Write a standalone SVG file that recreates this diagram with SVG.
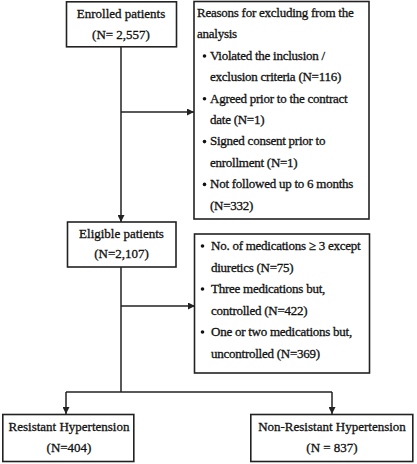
<svg xmlns="http://www.w3.org/2000/svg" width="417" height="464" viewBox="0 0 417 464">
<style>
.box{fill:#fff;stroke:#222;stroke-width:1.6}
.t{font-family:"Liberation Serif","Times New Roman",serif;font-size:13px;fill:#111;stroke:#111;stroke-width:0.3}
.c{text-anchor:middle}
.l{letter-spacing:-0.25px}
.ln{stroke:#222;stroke-width:1.5;fill:none}
.bul{fill:#111}
</style>
<defs>
<marker id="ah" viewBox="0 0 10 10" refX="10" refY="5" markerWidth="7" markerHeight="7" markerUnits="userSpaceOnUse" orient="auto">
<path d="M0,0L10,5L0,10Z" fill="#222"/>
</marker>
</defs>
<rect width="417" height="464" fill="#fff"/>
<g id="connectors">
<path class="ln" d="M121,47V222" marker-end="url(#ah)"/>
<path class="ln" d="M121,112H194" marker-end="url(#ah)"/>
<path class="ln" d="M121,267V392"/>
<path class="ln" d="M121,306H195" marker-end="url(#ah)"/>
<path class="ln" d="M66,392H332"/>
<path class="ln" d="M66,392V414" marker-end="url(#ah)"/>
<path class="ln" d="M332,392V414" marker-end="url(#ah)"/>
</g>
<g id="enrolled">
<rect class="box" x="66.5" y="1.8" width="110" height="45"/>
<text class="t c" x="121" y="18">Enrolled patients</text>
<text class="t c" x="121" y="38.5">(N= 2,557)</text>
</g>
<g id="reasons">
<rect class="box" x="194" y="1.5" width="175" height="217.5"/>
<text class="t l" x="197" y="17">Reasons for excluding from the</text>
<text class="t l" x="197" y="38.4">analysis</text>
<circle class="bul" cx="204.5" cy="56" r="1.8"/>
<text class="t l" x="210" y="59.8">Violated the inclusion /</text>
<text class="t l" x="210" y="81.2">exclusion criteria (N=116)</text>
<circle class="bul" cx="204.5" cy="98.8" r="1.8"/>
<text class="t l" x="210" y="102.6">Agreed prior to the contract</text>
<text class="t l" x="210" y="124">date (N=1)</text>
<circle class="bul" cx="204.5" cy="141.6" r="1.8"/>
<text class="t l" x="210" y="145.4">Signed consent prior to</text>
<text class="t l" x="210" y="166.8">enrollment (N=1)</text>
<circle class="bul" cx="204.5" cy="184.4" r="1.8"/>
<text class="t l" x="210" y="188.2">Not followed up to 6 months</text>
<text class="t l" x="210" y="209.6">(N=332)</text>
</g>
<g id="eligible">
<rect class="box" x="67.5" y="222" width="108.5" height="45"/>
<text class="t c" x="121.5" y="237.5">Eligible patients</text>
<text class="t c" x="121.5" y="258">(N=2,107)</text>
</g>
<g id="excluded2">
<rect class="box" x="194.5" y="234" width="175" height="139"/>
<circle class="bul" cx="202.5" cy="246" r="1.8"/>
<text class="t l" x="211" y="250">No. of medications ≥ 3 except</text>
<text class="t l" x="211" y="271.5">diuretics (N=75)</text>
<circle class="bul" cx="202.5" cy="289" r="1.8"/>
<text class="t l" x="211" y="293">Three medications but,</text>
<text class="t l" x="211" y="314.5">controlled (N=422)</text>
<circle class="bul" cx="202.5" cy="332" r="1.8"/>
<text class="t l" x="211" y="336">One or two medications but,</text>
<text class="t l" x="211" y="357.5">uncontrolled (N=369)</text>
</g>
<g id="resistant">
<rect class="box" x="2.8" y="414.5" width="131" height="47"/>
<text class="t c" x="69" y="430.5">Resistant Hypertension</text>
<text class="t c" x="69" y="451.5">(N=404)</text>
</g>
<g id="nonresistant">
<rect class="box" x="250.8" y="414.5" width="162" height="47"/>
<text class="t c" x="332" y="430.5">Non-Resistant Hypertension</text>
<text class="t c" x="332" y="451.5">(N = 837)</text>
</g>
</svg>
